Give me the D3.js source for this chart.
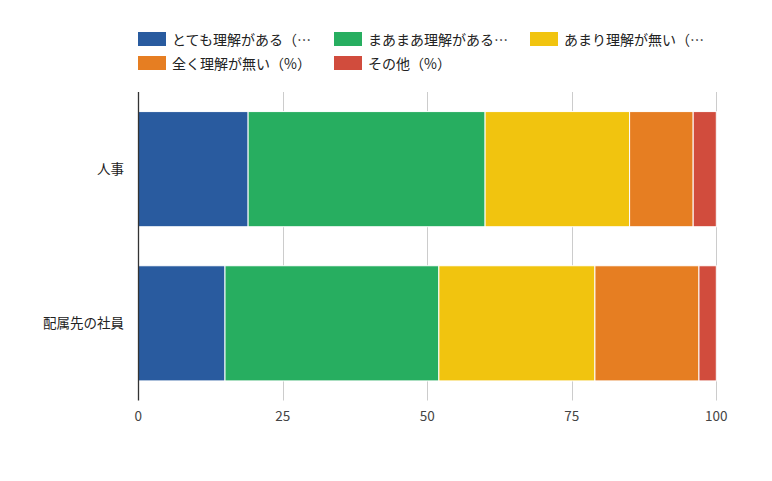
<!DOCTYPE html>
<html><head><meta charset="utf-8">
<script src="https://cdn.jsdelivr.net/npm/d3@7"></script>
<style>
html,body{margin:0;padding:0;background:#fff;}
svg{display:block;font-family:"Noto Sans CJK JP","Noto Sans",sans-serif;}
</style></head>
<body>
<svg id="c" width="772" height="481"></svg>
<script>
const categories = ["人事", "配属先の社員"];
const seriesNames = ["とても理解がある（…", "まあまあ理解がある…", "あまり理解が無い（…", "全く理解が無い（%）", "その他（%）"];
const seriesColors = ["#295B9F", "#27AE60", "#F1C40F", "#E67E22", "#D14C3D"];
const veryWell = [19, 15];
const fairly = [41, 37];
const notMuch = [25, 27];
const notAtAll = [11, 18];
const other = [4, 3];
const xTicks = [0, 25, 50, 75, 100];

(function () {
const seriesValues = [veryWell, fairly, notMuch, notAtAll, other];
const svg = d3.select("#c");
const L = 138.3, R = 716.3, T = 92, B = 400.5;

const x = d3.scaleLinear().domain([0, 100]).range([L, R]);
const y = d3.scaleBand().domain(categories).range([T, B]).paddingInner(0.253).paddingOuter(0.127);

// gridlines
svg.append("g").selectAll("line").data(xTicks.slice(1)).join("line")
  .attr("x1", d => Math.round(x(d)) + 0.5).attr("x2", d => Math.round(x(d)) + 0.5)
  .attr("y1", T).attr("y2", B)
  .attr("stroke", "#cccccc").attr("stroke-width", 1);

// stacked bars
const rows = categories.map((c, i) => {
  const o = {cat: c};
  seriesValues.forEach((s, k) => o["s" + k] = s[i]);
  return o;
});
const stack = d3.stack().keys(seriesValues.map((_, k) => "s" + k))(rows);
svg.append("g").selectAll("g").data(stack).join("g")
  .attr("fill", (d, k) => seriesColors[k])
  .selectAll("rect").data(d => d).join("rect")
  .attr("x", d => x(d[0]))
  .attr("width", d => x(d[1]) - x(d[0]))
  .attr("y", d => y(d.data.cat))
  .attr("height", y.bandwidth())
  .attr("stroke", "#ffffff").attr("stroke-width", 1);

// baseline axis
svg.append("line").attr("x1", 138.5).attr("x2", 138.5).attr("y1", T).attr("y2", B)
  .attr("stroke", "#333333").attr("stroke-width", 1.3);

// x tick labels
svg.append("g").selectAll("text").data(xTicks).join("text")
  .attr("x", d => x(d)).attr("y", 421)
  .attr("text-anchor", "middle").attr("font-size", 13.5).attr("fill", "#444444")
  .text(d => d);

// category labels
svg.append("g").selectAll("text").data(categories).join("text")
  .attr("x", 124).attr("y", d => y(d) + y.bandwidth() / 2 + 5)
  .attr("text-anchor", "end").attr("font-size", 13.5).attr("fill", "#222222")
  .text(d => d);

// legend
const legendPos = [[138, 32], [334, 32], [530, 32], [138, 56], [334, 56]];
const lg = svg.append("g").selectAll("g").data(seriesNames).join("g")
  .attr("transform", (d, i) => `translate(${legendPos[i][0]},${legendPos[i][1]})`);
lg.append("rect").attr("width", 28).attr("height", 14).attr("fill", (d, i) => seriesColors[i]);
lg.append("text").attr("x", 34).attr("y", 12.5).attr("font-size", 14).attr("fill", "#222222").text(d => d);
})();
</script>
</body></html>
